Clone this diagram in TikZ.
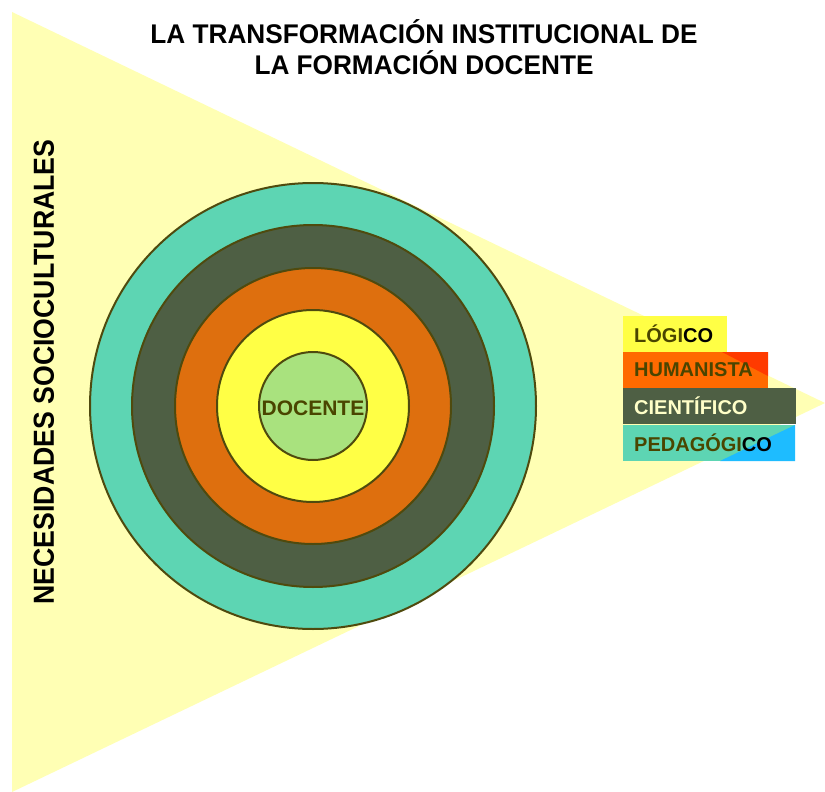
\documentclass[tikz,border=0pt]{standalone}
\usepackage{fontspec}
\setmainfont{Liberation Sans}
\definecolor{tri}{HTML}{FFFFB4}
\definecolor{ring1}{HTML}{5DD5B3}
\definecolor{ring2}{HTML}{4E5F44}
\definecolor{ring3}{HTML}{DE6F0E}
\definecolor{ring4}{HTML}{FFFF45}
\definecolor{ring5}{HTML}{A9E27E}
\definecolor{edge}{HTML}{4F4A0E}
\definecolor{olivetxt}{HTML}{4A4500}
\definecolor{boxorange}{HTML}{FF6A00}
\definecolor{boxred}{HTML}{FF3A00}
\definecolor{boxblue}{HTML}{1EBCFF}
\definecolor{lighttxt}{HTML}{FFFFC8}
\begin{document}
\begin{tikzpicture}[x=1pt,y=-1pt,
  ring/.style={circle,draw=edge,line width=2pt,inner sep=0pt},
  boxlbl/.style={anchor=west,font=\bfseries\fontsize{20}{20}\selectfont,inner sep=0pt},
  titletxt/.style={font=\bfseries\fontsize{27}{31}\selectfont,align=center,xscale=0.97}]
\useasboundingbox (0,0) rectangle (825,792);
\fill[white] (0,0) rectangle (825,792);
% background triangle
\fill[tri] (12,12) -- (825,403) -- (12,792) -- cycle;
% title
\node[titletxt] (title) at (424,47) {LA TRANSFORMACIÓN INSTITUCIONAL DE\\LA FORMACIÓN DOCENTE};
% vertical label
\node[font=\bfseries\fontsize{29}{29}\selectfont,rotate=90,xscale=0.92] (side) at (44,372) {NECESIDADES SOCIOCULTURALES};
% rings
\node[ring,fill=ring1,minimum size=446pt] (r1) at (313,406) {};
\node[ring,fill=ring2,minimum size=362pt] (r2) at (313,406) {};
\node[ring,fill=ring3,minimum size=276pt] (r3) at (313,406) {};
\node[ring,fill=ring4,minimum size=192pt] (r4) at (313,406) {};
\node[ring,fill=ring5,minimum size=108pt] (r5) at (313,406) {};
\node[font=\bfseries\fontsize{21}{21}\selectfont,text=olivetxt] (doc) at (313,408) {DOCENTE};
% boxes
\fill[ring4] (623,316) rectangle (727,352);
\fill[boxorange] (623,352) rectangle (768,388);
\fill[boxred] (722,352) -- (768,352) -- (768,376) -- cycle;
\fill[ring2] (623,388) rectangle (796,424);
\fill[ring1] (623,425) rectangle (795,461);
\fill[boxblue] (720,461) -- (795,425) -- (795,461) -- cycle;
\node[boxlbl,text=olivetxt] (b1) at (634,334) {LÓGI\textcolor{black}{CO}};
\node[boxlbl,text=olivetxt] (b2) at (634,370) {HUMANISTA};
\node[boxlbl,text=lighttxt] (b3) at (634,406) {CIENTÍFICO};
\node[boxlbl,text=olivetxt] (b4) at (634,443) {PEDAGÓGI\textcolor{black}{CO}};
\end{tikzpicture}
\end{document}
